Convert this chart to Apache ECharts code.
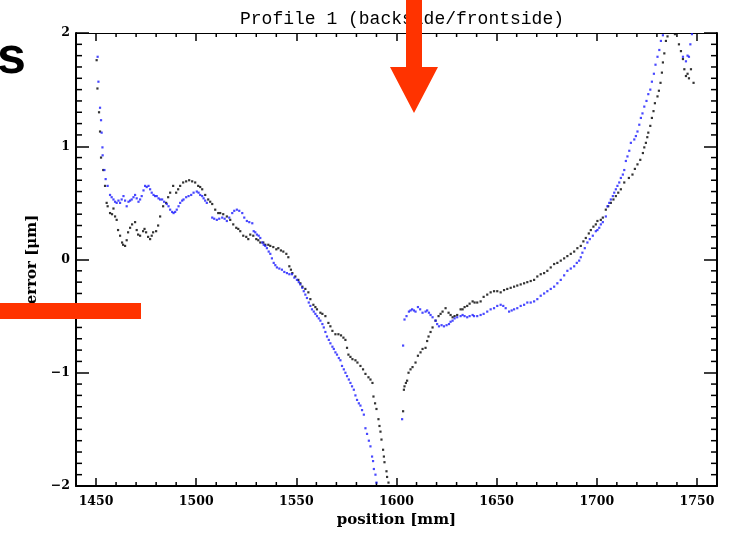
<!DOCTYPE html>
<html>
<head>
<meta charset="utf-8">
<script src="https://cdn.jsdelivr.net/npm/echarts/dist/echarts.min.js"></script>
<style>
  html, body { margin: 0; padding: 0; background: #fff; }
  #chart { width: 731px; height: 537px; }
</style>
</head>
<body>
<div id="chart"></div>
<script>
// black points (backside)
const backPos = [
  1450.3, 1450.7, 1451.5, 1452, 1452.5, 1453.6, 1454.5, 1455.3, 1455.8, 1457, 1458, 1458.7, 1459.5, 1460.3,
  1461, 1462, 1463, 1463.5, 1464.5, 1465.3, 1466, 1467, 1468, 1469.5, 1470.3, 1471, 1472, 1473.5, 1474.2,
  1475, 1476, 1477, 1477.8, 1478.5, 1480, 1481, 1482, 1483.5, 1485, 1486, 1487, 1488.5, 1490, 1491, 1492,
  1493.5, 1495, 1496.5, 1498, 1499.5, 1501, 1502, 1503, 1504.5, 1506, 1507, 1508, 1509.5, 1511, 1512,
  1513.5, 1515.3, 1517, 1518.5, 1520, 1521, 1522, 1523.5, 1525, 1526, 1527, 1528.5, 1530, 1531, 1532,
  1533.5, 1534.5, 1536, 1537, 1538.5, 1540, 1541, 1542.3, 1543.5, 1545, 1546, 1546.5, 1547.3, 1548,
  1549.5, 1551, 1552, 1553, 1554.5, 1556, 1557, 1558.5, 1559.5, 1560.3, 1562, 1563, 1564.5, 1566, 1567,
  1568, 1569.5, 1571, 1572.3, 1573.5, 1574.5, 1575.3, 1576, 1577, 1578, 1579.5, 1580.5, 1582, 1583.3,
  1584.5, 1586, 1587, 1588, 1588.5, 1589.3, 1590, 1591, 1591.5, 1592, 1592.5, 1593.3, 1593.7, 1594, 1595,
  1595.3, 1596,
  1603.3, 1603.7, 1604, 1604.7, 1605.3, 1606, 1607, 1608, 1609.5, 1610.7, 1612, 1613, 1614.5, 1615.3,
  1616, 1617, 1618, 1619.5, 1621, 1622, 1623, 1624.5, 1626, 1627, 1628, 1629, 1630.3, 1632, 1633, 1634,
  1635.3, 1636.5, 1638, 1639, 1640.3, 1642, 1643.5, 1645.3, 1647, 1648.7, 1650.3, 1652, 1653.7, 1655.3,
  1657, 1658.7, 1660.3, 1662, 1663.7, 1665.3, 1667, 1668.7, 1670.3, 1672, 1673.7, 1675.3, 1677, 1678.7,
  1680.3, 1682, 1683.7, 1685.3, 1687, 1688.7, 1690.3, 1692, 1693.3, 1694.5, 1696, 1697, 1698.3, 1699.5,
  1700.3, 1702, 1703, 1704.5, 1705.7, 1707, 1708.3, 1709.5, 1710.7, 1712, 1713.7, 1716, 1717.8, 1719,
  1720.3, 1721.7, 1723, 1723.7, 1724.5, 1725.2, 1725.7, 1726.7, 1727.5, 1728.3, 1729, 1730.3, 1731,
  1731.8, 1732.5, 1733, 1733.7, 1734.5, 1735.3, 1739, 1741, 1742, 1743, 1743.7, 1744.5, 1745.3, 1746,
  1747, 1748.3
];
const backErr = [
  1.76, 1.51, 1.30, 1.13, 0.90, 0.79, 0.65, 0.50, 0.47, 0.41, 0.40, 0.45, 0.38, 0.35,
  0.26, 0.21, 0.15, 0.13, 0.12, 0.17, 0.24, 0.28, 0.31, 0.33, 0.26, 0.22, 0.21, 0.25, 0.27,
  0.24, 0.20, 0.18, 0.21, 0.24, 0.25, 0.30, 0.38, 0.47, 0.50, 0.55, 0.59, 0.65, 0.59, 0.62, 0.65,
  0.68, 0.69, 0.70, 0.69, 0.68, 0.65, 0.64, 0.62, 0.57, 0.53, 0.51, 0.49, 0.44, 0.41, 0.41,
  0.40, 0.38, 0.35, 0.31, 0.28, 0.27, 0.25, 0.21, 0.20, 0.18, 0.22, 0.21, 0.18, 0.17, 0.15,
  0.15, 0.13, 0.13, 0.12, 0.11, 0.09, 0.10, 0.08, 0.07, 0.05, 0.02, -0.06, -0.09, -0.12,
  -0.15, -0.18, -0.21, -0.24, -0.26, -0.29, -0.35, -0.40, -0.42, -0.44, -0.47, -0.48, -0.50, -0.56, -0.59,
  -0.63, -0.66, -0.66, -0.67, -0.69, -0.71, -0.78, -0.84, -0.86, -0.88, -0.89, -0.91, -0.94, -0.97,
  -1.01, -1.04, -1.06, -1.09, -1.21, -1.27, -1.32, -1.41, -1.47, -1.52, -1.59, -1.68, -1.74, -1.79, -1.87,
  -1.92, -1.97,
  -1.34, -1.15, -1.12, -1.09, -1.07, -1.00, -0.97, -0.95, -0.91, -0.85, -0.82, -0.79, -0.78, -0.72,
  -0.68, -0.64, -0.60, -0.54, -0.50, -0.48, -0.46, -0.43, -0.47, -0.49, -0.51, -0.50, -0.49, -0.44, -0.44, -0.42,
  -0.41, -0.39, -0.37, -0.38, -0.38, -0.37, -0.33, -0.31, -0.29, -0.28, -0.28, -0.29, -0.27, -0.26,
  -0.25, -0.24, -0.23, -0.22, -0.21, -0.20, -0.19, -0.18, -0.15, -0.13, -0.12, -0.10, -0.07, -0.04,
  -0.03, -0.01, 0.01, 0.03, 0.05, 0.07, 0.10, 0.12, 0.16, 0.19, 0.23, 0.26, 0.29, 0.31,
  0.34, 0.35, 0.37, 0.44, 0.47, 0.50, 0.53, 0.56, 0.59, 0.62, 0.68, 0.72, 0.75, 0.80,
  0.84, 0.88, 0.94, 0.99, 1.03, 1.08, 1.12, 1.18, 1.25, 1.31, 1.38, 1.44, 1.49,
  1.56, 1.65, 1.74, 1.82, 1.93, 1.97, 1.99, 1.90, 1.84, 1.77, 1.68, 1.62, 1.64, 1.60,
  1.68, 1.56
];

// blue points (frontside)
const frontPos = [
  1450.8, 1451.2, 1452, 1452.5, 1452.8, 1453.2, 1453.3, 1454.2, 1454.8, 1455.8, 1457, 1457.8, 1458.7,
  1459.5, 1460.3, 1461.2, 1462, 1462.8, 1463.7, 1464.5, 1465.3, 1466.2, 1467, 1467.8, 1468.7, 1469.5,
  1470.3, 1471.2, 1472, 1472.8, 1473.7, 1474.5, 1475.3, 1476.2, 1477, 1477.8, 1478.7, 1479.5, 1480.3,
  1481.2, 1482, 1483, 1484, 1485.3, 1486.2, 1487, 1488, 1488.7, 1489.5, 1490.3, 1491.2, 1492, 1493,
  1493.7, 1495, 1496.2, 1497.5, 1498.7, 1500.3, 1501.2, 1502, 1503, 1503.7, 1504.5, 1505.3, 1508, 1509,
  1510.3, 1511.5, 1513, 1514.2, 1515.3, 1516.5, 1518, 1519, 1520.3, 1521.5, 1523, 1524, 1525.3, 1526.5,
  1528, 1528.7, 1529.5, 1530.3, 1531.2, 1532, 1533, 1533.7, 1534.5, 1535.3, 1536.2, 1537, 1537.8,
  1538.7, 1539.5, 1540.3, 1541.5, 1542.8, 1544, 1545.3, 1546.5, 1547.8, 1549, 1550.3, 1551.2, 1552,
  1553, 1553.7, 1554.5, 1555.3, 1556.2, 1557, 1557.8, 1558.7, 1559.5, 1560.3, 1561.2, 1562, 1563,
  1563.7, 1564.5, 1565.3, 1566.2, 1567, 1568, 1568.7, 1569.5, 1570.3, 1571.2, 1572, 1572.8, 1573.7,
  1574.5, 1575.3, 1576.2, 1577, 1577.8, 1578.7, 1579.5, 1580.3, 1581.2, 1582, 1582.8, 1583.7, 1584.5,
  1585.3, 1586.2, 1587, 1587.8, 1588.3, 1588.7, 1589.5, 1590,
  1602.8, 1603.3, 1604, 1605, 1606.2, 1607, 1607.8, 1608.7, 1609.5, 1610.7, 1611.8, 1613, 1614.5,
  1615.3, 1616.2, 1617, 1618, 1619.5, 1620.3, 1621.2, 1622.5, 1623.7, 1625, 1626.2, 1627, 1628, 1629,
  1630.3, 1632, 1633, 1634, 1635.3, 1636.5, 1638, 1638.7, 1640.3, 1642, 1643.5, 1645.3, 1647, 1648.7,
  1650.3, 1652, 1653.3, 1654.5, 1656.2, 1657.5, 1658.7, 1660.3, 1662, 1663.7, 1665.3, 1667, 1668.7,
  1670.3, 1672, 1673.7, 1675.3, 1677, 1678.7, 1680.3, 1682, 1683.7, 1685.3, 1687, 1688.7, 1690, 1691.2,
  1692, 1692.8, 1694, 1695.3, 1696.5, 1698, 1699.5, 1700.3, 1701.2, 1702, 1703, 1704.5, 1705.3, 1706.2,
  1707, 1708, 1708.7, 1709.5, 1710.3, 1711.2, 1712, 1713, 1713.7, 1714.5, 1715.3, 1716.2, 1717, 1718.7,
  1719.5, 1720.3, 1721.2, 1722, 1722.8, 1723.7, 1724.8, 1725.7, 1726.7, 1727.5, 1728.5, 1729.3, 1730.3,
  1731.2, 1732, 1733, 1743, 1744.5, 1745.3, 1746, 1746.7, 1747.5
];
const frontErr = [
  1.79, 1.57, 1.34, 1.23, 1.12, 0.99, 0.92, 0.79, 0.71, 0.65, 0.57, 0.55, 0.53,
  0.51, 0.50, 0.52, 0.50, 0.53, 0.56, 0.52, 0.47, 0.51, 0.52, 0.53, 0.55, 0.57,
  0.54, 0.51, 0.53, 0.56, 0.61, 0.65, 0.64, 0.65, 0.62, 0.59, 0.57, 0.56, 0.56,
  0.54, 0.53, 0.53, 0.51, 0.49, 0.47, 0.44, 0.42, 0.41, 0.42, 0.44, 0.47, 0.50, 0.52,
  0.53, 0.55, 0.56, 0.57, 0.59, 0.60, 0.59, 0.57, 0.56, 0.54, 0.52, 0.50, 0.37, 0.36,
  0.35, 0.36, 0.37, 0.36, 0.34, 0.37, 0.41, 0.43, 0.44, 0.43, 0.41, 0.37, 0.34, 0.33,
  0.32, 0.25, 0.24, 0.22, 0.21, 0.19, 0.15, 0.13, 0.12, 0.10, 0.07, 0.05, 0.01,
  -0.03, -0.05, -0.07, -0.08, -0.09, -0.11, -0.12, -0.13, -0.13, -0.16, -0.18, -0.20, -0.22,
  -0.25, -0.28, -0.31, -0.34, -0.38, -0.41, -0.44, -0.46, -0.48, -0.50, -0.52, -0.54, -0.57,
  -0.60, -0.64, -0.68, -0.71, -0.74, -0.77, -0.79, -0.82, -0.84, -0.87, -0.89, -0.94, -0.97,
  -1.00, -1.03, -1.06, -1.09, -1.12, -1.15, -1.20, -1.24, -1.27, -1.29, -1.33, -1.37, -1.49,
  -1.54, -1.60, -1.65, -1.74, -1.78, -1.85, -1.90, -1.97,
  -1.41, -0.76, -0.53, -0.50, -0.46, -0.45, -0.44, -0.45, -0.46, -0.42, -0.44, -0.47, -0.46,
  -0.45, -0.47, -0.49, -0.51, -0.54, -0.57, -0.59, -0.58, -0.59, -0.58, -0.57, -0.55, -0.54, -0.52,
  -0.51, -0.50, -0.49, -0.50, -0.51, -0.50, -0.49, -0.50, -0.50, -0.49, -0.48, -0.46, -0.44, -0.43,
  -0.41, -0.40, -0.41, -0.43, -0.46, -0.45, -0.44, -0.43, -0.41, -0.40, -0.38, -0.38, -0.37,
  -0.35, -0.32, -0.30, -0.28, -0.26, -0.24, -0.21, -0.18, -0.14, -0.10, -0.08, -0.06, -0.03, -0.01,
  0.02, 0.06, 0.10, 0.15, 0.18, 0.21, 0.25, 0.26, 0.28, 0.31, 0.33, 0.38, 0.47, 0.50,
  0.53, 0.56, 0.59, 0.62, 0.65, 0.68, 0.72, 0.75, 0.79, 0.87, 0.91, 0.96, 1.03, 1.06,
  1.09, 1.13, 1.19, 1.25, 1.29, 1.35, 1.40, 1.46, 1.50, 1.57, 1.64, 1.72, 1.79,
  1.85, 1.93, 1.98, 1.79, 1.75, 1.80, 1.79, 1.90, 1.99
];

const xTicks = [1450, 1500, 1550, 1600, 1650, 1700, 1750];
const yTicks = [-2, -1, 0, 1, 2];
const xMinorTicks = [1440, 1460, 1470, 1480, 1490, 1510, 1520, 1530, 1540, 1560, 1570, 1580, 1590,
  1610, 1620, 1630, 1640, 1660, 1670, 1680, 1690, 1710, 1720, 1730, 1740, 1760];
const yMinorTicks = [-1.9, -1.8, -1.7, -1.6, -1.5, -1.4, -1.3, -1.2, -1.1, -0.9, -0.8, -0.7, -0.6,
  -0.5, -0.4, -0.3, -0.2, -0.1, 0.1, 0.2, 0.3, 0.4, 0.5, 0.6, 0.7, 0.8, 0.9, 1.1, 1.2, 1.3, 1.4,
  1.5, 1.6, 1.7, 1.8, 1.9];

const pairs = (xs, ys) => xs.map((x, i) => [x, ys[i]]);

const chart = echarts.init(document.getElementById("chart"));

const labelFont = { fontFamily: "DejaVu Serif", fontWeight: "bold", color: "#000" };
const tickStyle = { stroke: "#000", lineWidth: 1.5 };

// one side of the box frame: axis line and inward major ticks
const frameX = (position, lineWidth) => ({
  type: "value",
  min: 1440,
  max: 1760,
  position,
  splitLine: { show: false },
  axisLine: { show: true, onZero: false, lineStyle: { color: "#000", width: lineWidth } },
  axisTick: { show: true, inside: true, length: 8, customValues: xTicks, lineStyle: { color: "#000", width: 1.5 } },
  axisLabel: { show: false },
});
const frameY = (position) => ({
  type: "value",
  min: -2,
  max: 2,
  interval: 1,
  position,
  splitLine: { show: false },
  axisLine: { show: true, onZero: false, lineStyle: { color: "#000", width: 2 } },
  axisTick: { show: true, inside: true, length: 13, lineStyle: { color: "#000", width: 1.5 } },
  axisLabel: { show: false },
});

const xMain = frameX("bottom", 2);
xMain.axisLabel = { ...labelFont, fontSize: 12.5, margin: 9, customValues: xTicks, formatter: (v) => String(v) };
xMain.name = "position [mm]";
xMain.nameLocation = "middle";
xMain.nameGap = 27;
xMain.nameTextStyle = { ...labelFont, fontSize: 15 };

const yMain = frameY("left");
yMain.axisLabel = {
  ...labelFont,
  fontSize: 12.5,
  margin: 6,
  customValues: yTicks,
  formatter: (v) => (v < 0 ? "\u2212" + Math.abs(v) : String(v)),
};
yMain.name = "error [\u03bcm]";
yMain.nameLocation = "middle";
yMain.nameRotate = 90;
yMain.nameGap = 36;
yMain.nameTextStyle = { ...labelFont, fontSize: 15 };

// minor ticks on both opposite sides, placed through the axis scales
const minorX = (params, api) => {
  const box = params.coordSys;
  const px = api.coord([api.value(0), 0])[0];
  const bottom = box.y + box.height;
  return {
    type: "group",
    children: [
      { type: "line", shape: { x1: px, y1: bottom, x2: px, y2: bottom - 4 }, style: tickStyle },
      { type: "line", shape: { x1: px, y1: box.y, x2: px, y2: box.y + 4 }, style: tickStyle },
    ],
  };
};
const minorY = (params, api) => {
  const box = params.coordSys;
  const py = api.coord([1600, api.value(1)])[1];
  const right = box.x + box.width;
  return {
    type: "group",
    children: [
      { type: "line", shape: { x1: box.x, y1: py, x2: box.x + 6, y2: py }, style: tickStyle },
      { type: "line", shape: { x1: right, y1: py, x2: right - 6, y2: py }, style: tickStyle },
    ],
  };
};

const option = {
  animation: false,
  backgroundColor: "#fff",
  title: {
    text: "Profile 1 (backside/frontside)",
    left: 397,
    top: 5,
    textAlign: "center",
    textStyle: { fontFamily: "Liberation Mono", fontWeight: "normal", fontSize: 18, color: "#000" },
  },
  grid: { left: 76, right: 14, top: 33, bottom: 51, containLabel: false, outerBoundsMode: "none" },
  xAxis: [xMain, frameX("top", 1)],
  yAxis: [yMain, frameY("right")],
  series: [
    {
      name: "xMinorTicks",
      type: "custom",
      silent: true,
      clip: false,
      renderItem: minorX,
      data: xMinorTicks.map((v) => [v, 0]),
    },
    {
      name: "yMinorTicks",
      type: "custom",
      silent: true,
      clip: false,
      renderItem: minorY,
      data: yMinorTicks.map((v) => [1600, v]),
    },
    {
      name: "backside",
      type: "scatter",
      symbol: "rect",
      symbolSize: 2.2,
      clip: true,
      itemStyle: { color: "#000" },
      data: pairs(backPos, backErr),
    },
    {
      name: "frontside",
      type: "scatter",
      symbol: "rect",
      symbolSize: 2.2,
      clip: true,
      itemStyle: { color: "#1a1aff" },
      data: pairs(frontPos, frontErr),
    },
  ],
  // slide annotations laid over the plot
  graphic: [
    {
      type: "text",
      z: 100,
      left: -3,
      top: 33,
      style: { text: "s", font: "bold 52px 'Liberation Sans'", fill: "#000" },
    },
    {
      type: "polygon",
      z: 100,
      shape: { points: [[406, 0], [422, 0], [422, 67], [438, 67], [414, 113], [390, 67], [406, 67]] },
      style: { fill: "#ff3300" },
    },
    {
      type: "rect",
      z: 100,
      shape: { x: 0, y: 303, width: 141, height: 16 },
      style: { fill: "#ff3300" },
    },
  ],
};

chart.setOption(option);

window.addEventListener("resize", () => chart.resize());
</script>
</body>
</html>
